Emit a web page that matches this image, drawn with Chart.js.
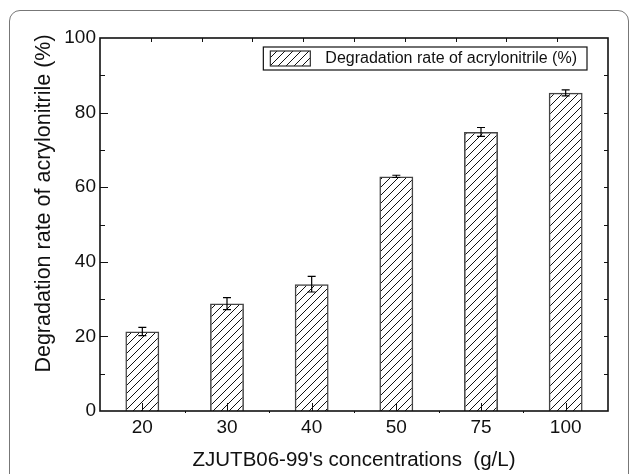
<!DOCTYPE html>
<html>
<head>
<meta charset="utf-8">
<script src="https://cdn.jsdelivr.net/npm/chart.js@4.4.1/dist/chart.umd.min.js"></script>
<style>
  body { margin: 0; background: #fff; overflow: hidden; }
  #wrap { position: relative; width: 629px; height: 474px; overflow: hidden; }
  #frame {
    position: absolute; left: 9px; top: 10px; width: 618px; height: 520px;
    border: 1px solid #777; border-radius: 11px;
  }
  canvas { position: absolute; left: 0; top: 0; }
</style>
</head>
<body>
<div id="wrap">
  <div id="frame"></div>
  <canvas id="myChart" width="629" height="474"></canvas>
</div>
<script>
const concentrations = ["20", "30", "40", "50", "75", "100"];
const degradation = [21.3, 28.8, 34.0, 62.9, 74.8, 85.3];
const errors = [1.1, 1.6, 2.1, 0.3, 1.2, 0.8];
const yTicks = [0, 20, 40, 60, 80, 100];

const FONT = "'Liberation Sans', Arial, Helvetica, sans-serif";
const seriesLabel = "Degradation rate of acrylonitrile (%)";

// hatch "/" pattern for bars
function makeHatch() {
  const c = document.createElement("canvas");
  c.width = 8;
  c.height = 8;
  const g = c.getContext("2d");
  g.strokeStyle = "#111";
  g.lineWidth = 1;
  g.beginPath();
  g.moveTo(0, 8); g.lineTo(8, 0);
  g.moveTo(-2, 2); g.lineTo(2, -2);
  g.moveTo(6, 10); g.lineTo(10, 6);
  g.stroke();
  return g.createPattern(c, "repeat");
}
const hatch = makeHatch();

const errorBars = {
  id: "errorBars",
  afterDatasetsDraw(chart) {
    const ctx = chart.ctx;
    const y = chart.scales.y;
    const meta = chart.getDatasetMeta(0);
    ctx.save();
    ctx.strokeStyle = "#000";
    ctx.lineWidth = 1.2;
    meta.data.forEach((bar, i) => {
      const hi = y.getPixelForValue(degradation[i] + errors[i]);
      const lo = y.getPixelForValue(degradation[i] - errors[i]);
      ctx.beginPath();
      ctx.moveTo(bar.x, hi); ctx.lineTo(bar.x, lo);
      ctx.moveTo(bar.x - 4, hi); ctx.lineTo(bar.x + 4, hi);
      ctx.moveTo(bar.x - 4, lo); ctx.lineTo(bar.x + 4, lo);
      ctx.stroke();
    });
    ctx.restore();
  }
};

const frameAndTicks = {
  id: "frameAndTicks",
  afterDatasetsDraw(chart) {
    const ctx = chart.ctx;
    const a = chart.chartArea;
    const x = chart.scales.x;
    const y = chart.scales.y;
    ctx.save();
    ctx.strokeStyle = "#111";
    ctx.lineWidth = 1;
    ctx.beginPath();
    // left / right ticks every 10
    for (let v = 10; v < 100; v += 10) {
      const py = Math.round(y.getPixelForValue(v)) + 0.5;
      const len = v % 20 === 0 ? 8 : 5;
      ctx.moveTo(a.left, py); ctx.lineTo(a.left + len, py);
      ctx.moveTo(a.right, py); ctx.lineTo(a.right - 4, py);
    }
    // bottom ticks at categories, pointing up
    for (let i = 0; i < concentrations.length; i++) {
      const px = Math.round(x.getPixelForTick(i)) + 0.5;
      ctx.moveTo(px, a.bottom); ctx.lineTo(px, a.bottom - 8);
    }
    // small marks between categories
    for (let i = 1; i < concentrations.length; i++) {
      const px = Math.round(x.getPixelForDecimal(i / concentrations.length)) + 0.5;
      ctx.moveTo(px, a.bottom); ctx.lineTo(px, a.bottom + 2);
    }
    // top axis ticks
    for (let i = 1; i < 10; i++) {
      const px = Math.round(x.getPixelForDecimal(i / 10)) + 0.5;
      ctx.moveTo(px, a.top); ctx.lineTo(px, a.top + 4);
    }
    ctx.stroke();
    ctx.lineWidth = 1.6;
    ctx.strokeRect(a.left, a.top, a.right - a.left, a.bottom - a.top);
    ctx.restore();
  },
  afterDraw(chart) {
    const ctx = chart.ctx;
    const a = chart.chartArea;
    ctx.save();
    // legend box
    ctx.font = "16px " + FONT;
    const tw = ctx.measureText(seriesLabel).width;
    const boxW = 7 + 40 + 15 + tw + 10;
    const bx = a.right - 21 - boxW;
    const by = a.top + 9;
    ctx.strokeStyle = "#111";
    ctx.lineWidth = 1.2;
    ctx.fillStyle = "#fff";
    ctx.fillRect(bx, by, boxW, 23);
    ctx.strokeRect(bx, by, boxW, 23);
    ctx.fillStyle = hatch;
    ctx.fillRect(bx + 7, by + 4, 40, 15);
    ctx.strokeStyle = "#333";
    ctx.strokeRect(bx + 7, by + 4, 40, 15);
    ctx.fillStyle = "#111";
    ctx.textBaseline = "middle";
    ctx.textAlign = "left";
    ctx.fillText(seriesLabel, bx + 62, by + 12);
    // y axis title
    ctx.font = "21.5px " + FONT;
    ctx.translate(44.5, (a.top + a.bottom) / 2 - 21);
    ctx.rotate(-Math.PI / 2);
    ctx.textAlign = "center";
    ctx.fillText(seriesLabel, 0, 0);
    ctx.restore();
  }
};

function renderChart() {
  const ctx = document.getElementById("myChart");
  const config = {
    type: "bar",
    data: {
      labels: concentrations,
      datasets: [
        {
          label: seriesLabel,
          data: degradation,
          backgroundColor: hatch,
          borderColor: "#444",
          borderWidth: 1.5,
          barPercentage: 0.4,
          categoryPercentage: 1.0,
        },
      ],
    },
    options: {
      responsive: false,
      animation: false,
      layout: { padding: { left: 0, top: 38, right: 21, bottom: 0 } },
      plugins: { legend: { display: false }, tooltip: { enabled: false } },
      scales: {
        x: {
          grid: { display: false, drawTicks: false },
          border: { display: false },
          ticks: { color: "#111", padding: 5, font: { family: FONT, size: 19 } },
          title: {
            display: true,
            text: "ZJUTB06-99's concentrations  (g/L)",
            color: "#111",
            font: { family: FONT, size: 20.5 },
            padding: { top: 0, bottom: 1 },
          },
          afterFit(scale) { scale.height = 63; },
        },
        y: {
          min: 0,
          max: 100,
          grid: { display: false, drawTicks: false },
          border: { display: false },
          afterBuildTicks(scale) { scale.ticks = yTicks.map(v => ({ value: v })); },
          ticks: { color: "#111", padding: 4, font: { family: FONT, size: 19 } },
          afterFit(scale) { scale.width = 100; },
        },
      },
    },
    plugins: [errorBars, frameAndTicks],
  };
  new Chart(ctx, config);
}

renderChart();
</script>
</body>
</html>
